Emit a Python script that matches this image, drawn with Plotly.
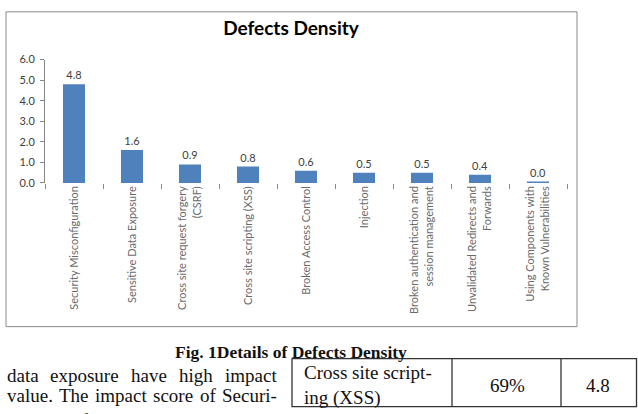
import plotly.graph_objects as go

# ---- data ----
categories = [
    "Security Misconfiguration",
    "Sensitive Data Exposure",
    "Cross site request forgery<br>(CSRF)",
    "Cross site scripting (XSS)",
    "Broken Access Control",
    "Injection",
    "Broken authentication and<br>session management",
    "Unvalidated Redirects and<br>Forwards",
    "Using Components with<br>Known Vulnerabilities",
]
density = [4.8, 1.6, 0.9, 0.8, 0.6, 0.5, 0.5, 0.4, 0.02]
y_ticks = [0, 1, 2, 3, 4, 5, 6]

title_text = "Defects Density"
caption_text = "Fig. 1Details of Defects Density"
body_line1_words = ["data", "exposure", "have", "high", "impact"]
body_line2_words = ["value.", "The", "impact", "score", "of", "Securi-"]
body_line3 = "ty misconfiguration is very high and"
table_row = ["Cross site script-<br>ing (XSS)", "69%", "4.8"]

W, H = 638, 414


def px(x):
    return x / W


def py(y):
    return (H - y) / H


fig = go.Figure()
fig.add_trace(go.Bar(
    x=categories,
    y=density,
    marker=dict(color="#4f81bd", line=dict(width=0)),
    text=[f"{v:.1f}" for v in density],
    textposition="outside",
    cliponaxis=False,
    textfont=dict(family="Lato", size=11, color="#404040"),
    hoverinfo="skip",
))

fig.update_layout(
    width=W, height=H, autosize=False,
    margin=dict(l=0, r=0, t=0, b=0),
    paper_bgcolor="white", plot_bgcolor="white",
    bargap=0.62,
    showlegend=False,
    title=dict(
        text=f"<b>{title_text}</b>",
        x=px(291), xanchor="center",
        y=1 - 28 / H, yanchor="middle", yref="container",
        font=dict(family="Lato", size=19, color="#000000"),
    ),
    xaxis=dict(
        domain=[px(45), px(567)],
        showline=False, showgrid=False, zeroline=False,
        ticks="outside", tickson="boundaries", ticklen=5,
        tickcolor="#868686", tickwidth=1,
        tickangle=-90,
        tickfont=dict(family="Lato", size=11, color="#6a6a6a"),
    ),
    yaxis=dict(
        domain=[py(181.7), py(54.3)],
        range=[0, 6],
        tickvals=y_ticks,
        ticktext=[f"{v:.1f}" for v in y_ticks],
        showline=True, linecolor="#868686", linewidth=1,
        showgrid=False, zeroline=False,
        ticks="outside", ticklen=4, tickcolor="#868686",
        ticklabelstandoff=3,
        tickfont=dict(family="Lato", size=11, color="#404040"),
    ),
)

# chart frame
fig.add_shape(type="rect", xref="paper", yref="paper",
              x0=px(6), x1=px(577), y0=py(330), y1=py(5),
              line=dict(color="#8a8a8a", width=1), layer="below")

serif = dict(family="Liberation Serif", size=19, color="#111111")

# caption
fig.add_annotation(text=f"<b>{caption_text}</b>", xref="paper", yref="paper",
                   x=px(290.5), y=py(356.5), xanchor="center", yanchor="middle",
                   showarrow=False,
                   font=dict(family="Liberation Serif", size=17.5, color="#111111"))

# body text (justified lines -> per-word positions)
word_x1 = [5, 48, 129, 177, 223]
for wx, word in zip(word_x1, body_line1_words):
    fig.add_annotation(text=word, xref="paper", yref="paper",
                       x=px(wx), y=py(380.5), xanchor="left", yanchor="middle",
                       showarrow=False, font=serif)
word_x2 = [5, 57, 93, 151, 198, 220]
for wx, word in zip(word_x2, body_line2_words):
    fig.add_annotation(text=word, xref="paper", yref="paper",
                       x=px(wx), y=py(401.5), xanchor="left", yanchor="middle",
                       showarrow=False, font=serif)
fig.add_annotation(text=body_line3, xref="paper", yref="paper",
                   x=px(5), y=py(427), xanchor="left", yanchor="middle",
                   showarrow=False, font=serif)

# table fragment
tbl_line = dict(color="#333333", width=1.3)
fig.add_shape(type="rect", xref="paper", yref="paper",
              x0=px(292), x1=px(636.5), y0=py(412.5), y1=py(363),
              line=tbl_line)
for xv in (452, 561):
    fig.add_shape(type="line", xref="paper", yref="paper",
                  x0=px(xv), x1=px(xv), y0=py(412.5), y1=py(363),
                  line=tbl_line)
fig.add_annotation(text=table_row[0], xref="paper", yref="paper",
                   x=px(302), y=py(391), xanchor="left", yanchor="middle",
                   align="left", showarrow=False, font=serif)
fig.add_annotation(text=table_row[1], xref="paper", yref="paper",
                   x=px(507), y=py(391), xanchor="center", yanchor="middle",
                   showarrow=False, font=serif)
fig.add_annotation(text=table_row[2], xref="paper", yref="paper",
                   x=px(598), y=py(391), xanchor="center", yanchor="middle",
                   showarrow=False, font=serif)

fig.write_html("out.html")
